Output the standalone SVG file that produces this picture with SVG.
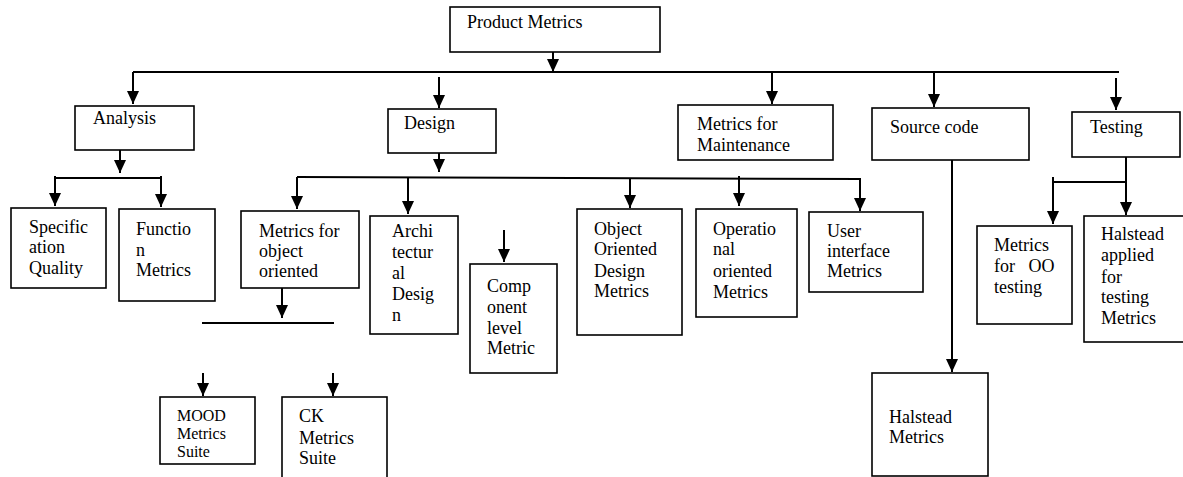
<svg xmlns="http://www.w3.org/2000/svg" width="1183" height="477" viewBox="0 0 1183 477">
<style>
.box{fill:#fff;stroke:#000;stroke-width:1.6}
.t{font-family:"Liberation Serif","Times New Roman",serif;font-size:18px;fill:#000}
.s{font-size:16px}
.c{stroke:#000;stroke-width:2;fill:none}
.a{marker-end:url(#ah)}
</style>
<defs>
<marker id="ah" viewBox="0 0 13 12" refX="13" refY="6" markerWidth="13" markerHeight="12" markerUnits="userSpaceOnUse" orient="auto">
<path d="M0,0 L13,6 L0,12 z" fill="#000"/>
</marker>
</defs>
<rect width="1183" height="477" fill="#fff"/>
<g id="connectors">
<line class="c" x1="133" y1="72" x2="1119" y2="72"/>
<line class="c a" x1="553" y1="52" x2="553" y2="72"/>
<line class="c a" x1="133" y1="72" x2="133" y2="104"/>
<line class="c a" x1="439" y1="77" x2="439" y2="108"/>
<line class="c a" x1="772" y1="72" x2="772" y2="104"/>
<line class="c a" x1="934" y1="72" x2="934" y2="107"/>
<line class="c a" x1="1116" y1="78" x2="1116" y2="110"/>
<line class="c a" x1="120" y1="150" x2="120" y2="173"/>
<line class="c" x1="55" y1="178" x2="161" y2="178"/>
<line class="c a" x1="55" y1="176" x2="55" y2="206"/>
<line class="c a" x1="161" y1="176" x2="161" y2="207"/>
<line class="c a" x1="439" y1="153" x2="439" y2="172"/>
<line class="c" x1="297" y1="177" x2="860" y2="179"/>
<line class="c a" x1="297" y1="177" x2="297" y2="209"/>
<line class="c a" x1="408" y1="178" x2="408" y2="214"/>
<line class="c a" x1="630" y1="178" x2="630" y2="208"/>
<line class="c a" x1="739" y1="176" x2="739" y2="206"/>
<line class="c a" x1="860" y1="178" x2="860" y2="211"/>
<line class="c a" x1="504" y1="230" x2="504" y2="262"/>
<line class="c a" x1="282" y1="288" x2="282" y2="318"/>
<line class="c" x1="202" y1="323" x2="334" y2="323" stroke-width="1.5"/>
<line class="c a" x1="203" y1="373" x2="203" y2="396"/>
<line class="c a" x1="333" y1="373" x2="333" y2="396"/>
<line class="c a" x1="952" y1="160" x2="952" y2="372"/>
<line class="c a" x1="1126" y1="150" x2="1126" y2="215"/>
<line class="c" x1="1053" y1="182" x2="1126" y2="182"/>
<line class="c a" x1="1053" y1="177" x2="1053" y2="224"/>
</g>
<g id="product-metrics"><rect class="box" x="450" y="7" width="210" height="45"/><text class="t" x="467" y="28">Product Metrics</text></g>
<g id="analysis"><rect class="box" x="75" y="106" width="119" height="44"/><text class="t" x="93" y="124">Analysis</text></g>
<g id="design"><rect class="box" x="388" y="109" width="108" height="44"/><text class="t" x="404" y="129">Design</text></g>
<g id="maintenance"><rect class="box" x="678" y="105" width="155" height="55"/><text class="t" x="697" y="130">Metrics for</text><text class="t" x="697" y="151">Maintenance</text></g>
<g id="source-code"><rect class="box" x="872" y="108" width="157" height="52"/><text class="t" x="890" y="133">Source code</text></g>
<g id="testing"><rect class="box" x="1072" y="112" width="108" height="45"/><text class="t" x="1090" y="133">Testing</text></g>
<g id="spec-quality"><rect class="box" x="11" y="208" width="95" height="80"/><text class="t" x="29" y="233">Specific</text><text class="t" x="29" y="253">ation</text><text class="t" x="29" y="274">Quality</text></g>
<g id="function-metrics"><rect class="box" x="119" y="209" width="96" height="92"/><text class="t" x="136" y="235">Functio</text><text class="t" x="136" y="256">n</text><text class="t" x="136" y="276">Metrics</text></g>
<g id="metrics-oo"><rect class="box" x="241" y="211" width="118" height="77"/><text class="t" x="259" y="237">Metrics for</text><text class="t" x="259" y="257">object</text><text class="t" x="259" y="277">oriented</text></g>
<g id="architectural"><rect class="box" x="370" y="216" width="88" height="118"/><text class="t" x="392" y="237">Archi</text><text class="t" x="392" y="258">tectur</text><text class="t" x="392" y="279">al</text><text class="t" x="392" y="300">Desig</text><text class="t" x="392" y="321">n</text></g>
<g id="component"><rect class="box" x="470" y="264" width="87" height="109"/><text class="t" x="487" y="292">Comp</text><text class="t" x="487" y="313">onent</text><text class="t" x="487" y="334">level</text><text class="t" x="487" y="354">Metric</text></g>
<g id="ood"><rect class="box" x="577" y="209" width="105" height="126"/><text class="t" x="594" y="235">Object</text><text class="t" x="594" y="255">Oriented</text><text class="t" x="594" y="277">Design</text><text class="t" x="594" y="297">Metrics</text></g>
<g id="operational"><rect class="box" x="696" y="209" width="101" height="108"/><text class="t" x="713" y="235">Operatio</text><text class="t" x="713" y="255">nal</text><text class="t" x="713" y="277">oriented</text><text class="t" x="713" y="298">Metrics</text></g>
<g id="user-interface"><rect class="box" x="809" y="212" width="114" height="80"/><text class="t" x="827" y="237">User</text><text class="t" x="827" y="257">interface</text><text class="t" x="827" y="277">Metrics</text></g>
<g id="mood"><rect class="box" x="160" y="397" width="95" height="67"/><text class="t s" x="177" y="421">MOOD</text><text class="t s" x="177" y="439">Metrics</text><text class="t s" x="177" y="457">Suite</text></g>
<g id="ck"><rect class="box" x="282" y="397" width="105" height="90"/><text class="t" x="299" y="422">CK</text><text class="t" x="299" y="444">Metrics</text><text class="t" x="299" y="464">Suite</text></g>
<g id="halstead"><rect class="box" x="872" y="373" width="116" height="103"/><text class="t" x="889" y="423">Halstead</text><text class="t" x="889" y="443">Metrics</text></g>
<g id="oo-testing"><rect class="box" x="977" y="226" width="95" height="98"/><text class="t" x="994" y="251">Metrics</text><text class="t" x="994" y="272" xml:space="preserve">for   OO</text><text class="t" x="994" y="293">testing</text></g>
<g id="halstead-testing"><rect class="box" x="1084" y="216" width="102" height="126"/><text class="t" x="1101" y="240">Halstead</text><text class="t" x="1101" y="261">applied</text><text class="t" x="1101" y="283">for</text><text class="t" x="1101" y="303">testing</text><text class="t" x="1101" y="324">Metrics</text></g>
</svg>
